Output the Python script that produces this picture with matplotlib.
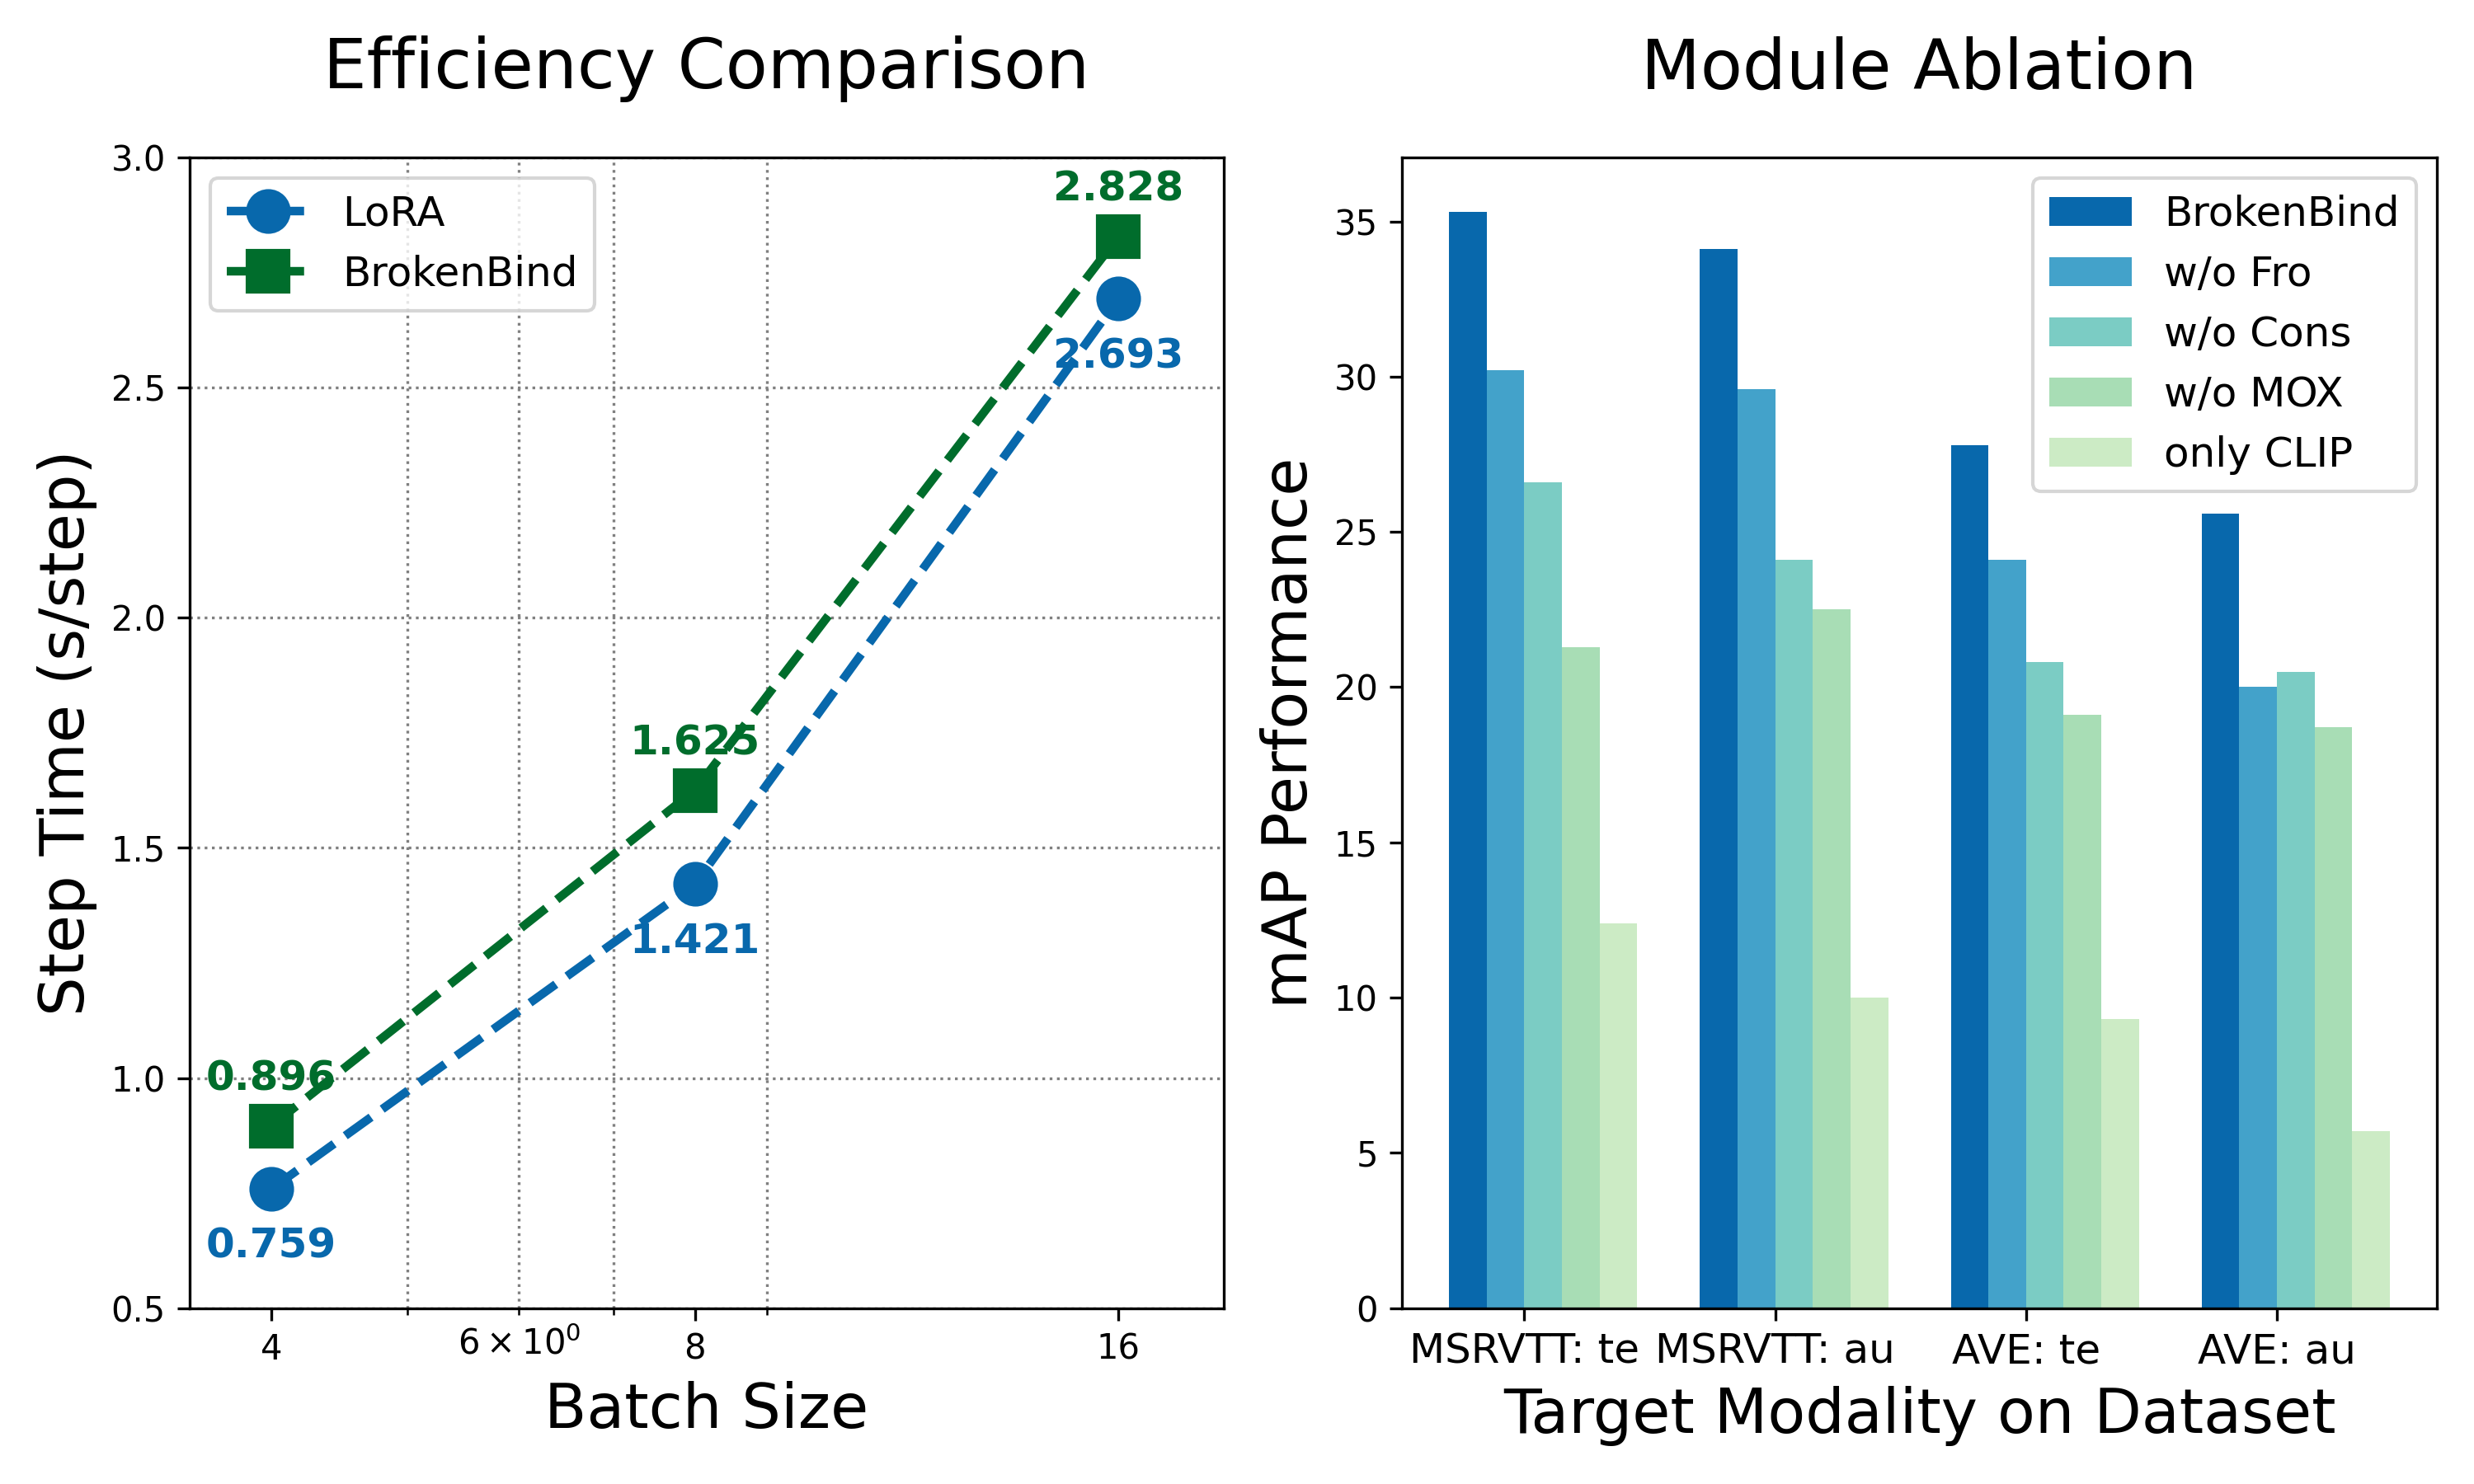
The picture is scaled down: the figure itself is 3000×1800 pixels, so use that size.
import numpy as np
import matplotlib
matplotlib.use("Agg")
import matplotlib.pyplot as plt

# datos del panel izquierdo
batch_sizes = [4, 8, 16]
lora_time = [0.759, 1.421, 2.693]
broken_time = [0.896, 1.625, 2.828]

# datos del panel derecho
grupos = ["MSRVTT: te", "MSRVTT: au", "AVE: te", "AVE: au"]
variantes = ["BrokenBind", "w/o Fro", "w/o Cons", "w/o MOX", "only CLIP"]
val_brokenbind = [35.3, 34.1, 27.8, 25.6]
val_wo_fro = [30.2, 29.6, 24.1, 20.0]
val_wo_cons = [26.6, 24.1, 20.8, 20.5]
val_wo_mox = [21.3, 22.5, 19.1, 18.7]
val_only_clip = [12.4, 10.0, 9.3, 5.7]
valores = [val_brokenbind, val_wo_fro, val_wo_cons, val_wo_mox, val_only_clip]

colores = ["#0868ac", "#43a2ca", "#7bccc4", "#a8ddb5", "#ccebc5"]
azul = "#0868ac"
verde = "#006d2c"

fig = plt.figure(figsize=(10, 6), dpi=300)
ax1 = fig.add_axes([0.0767, 0.1185, 0.4945 - 0.0767, 0.894 - 0.1185])
ax2 = fig.add_axes([0.5667, 0.1185, 0.985 - 0.5667, 0.894 - 0.1185])

# --- Efficiency Comparison ---
ax1.plot(batch_sizes, lora_time, color=azul, ls="--", lw=2.5, marker="o", ms=12, label="LoRA")
ax1.plot(batch_sizes, broken_time, color=verde, ls="--", lw=2.5, marker="s", ms=12, label="BrokenBind")
ax1.set_xscale("log")
ax1.set_xlim(3.5, 19)
ax1.set_ylim(0.5, 3.0)
ax1.set_xticks(batch_sizes)
ax1.set_xticklabels([str(b) for b in batch_sizes])
ax1.yaxis.grid(True, ls=":", color="gray", lw=0.8)
ax1.xaxis.grid(True, which="minor", ls=":", color="gray", lw=0.8)

for x, y in zip(batch_sizes, lora_time):
    ax1.annotate(f"{y:.3f}", (x, y), xytext=(0, -11), textcoords="offset points",
                 ha="center", va="top", fontsize=12, fontweight="bold", color=azul)
for x, y in zip(batch_sizes, broken_time):
    ax1.annotate(f"{y:.3f}", (x, y), xytext=(0, 8), textcoords="offset points",
                 ha="center", va="bottom", fontsize=12, fontweight="bold", color=verde)

ax1.set_title("Efficiency Comparison", fontsize=20, pad=20)
ax1.set_xlabel("Batch Size", fontsize=18)
ax1.set_ylabel("Step Time (s/step)", fontsize=18)
ax1.legend(loc="upper left", fontsize=12)

# --- Module Ablation ---
x = np.arange(len(grupos))
ancho = 0.15
for i, (nombre, vals) in enumerate(zip(variantes, valores)):
    ax2.bar(x + (i - 1.5) * ancho, vals, ancho, color=colores[i], label=nombre)
ax2.set_xticks(x)
ax2.set_xticklabels(grupos, fontsize=12)
ax2.set_title("Module Ablation", fontsize=20, pad=20)
ax2.set_xlabel("Target Modality on Dataset", fontsize=18)
ax2.set_ylabel("mAP Performance", fontsize=18)
ax2.legend(loc="upper right", fontsize=12)

plt.savefig("out.png")
